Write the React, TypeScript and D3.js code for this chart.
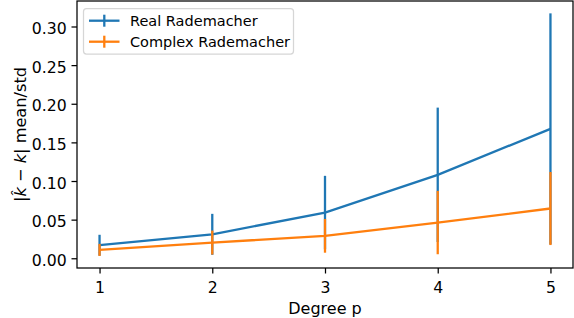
import React, { useRef, useEffect } from 'react';
import * as d3 from 'd3';

const degrees = [1, 2, 3, 4, 5];
const realMean = [0.0169, 0.031, 0.0592, 0.108, 0.1675];
const realStd = [0.0135, 0.0265, 0.0475, 0.087, 0.1495];
const complexMean = [0.0108, 0.0203, 0.029, 0.0462, 0.0644];
const complexStd = [0.0078, 0.0155, 0.0218, 0.041, 0.0473];
const yTicks = [0, 0.05, 0.1, 0.15, 0.2, 0.25, 0.3];
const seriesNames = ['Real Rademacher', 'Complex Rademacher'];
const colors = ['#1f77b4', '#ff7f0e'];

const W = 574;
const H = 318;
const FONT = 'DejaVu Sans, sans-serif';
const LW = 2.3;

const App = () => {
    const svgRef = useRef<SVGSVGElement>(null);

    useEffect(() => {
        const margin = { top: 1, right: 1, bottom: 50, left: 77 };

        const svg = d3.select(svgRef.current);
        svg.selectAll('*').remove();

        // scales
        const x = d3.scaleLinear().domain([0.8, 5.2]).range([margin.left, W - margin.right]);
        const y = d3.scaleLinear().domain([-0.0126, 0.333]).range([H - margin.bottom, margin.top]);

        svg.append('rect')
            .attr('width', W).attr('height', H).attr('fill', '#fff');

        // axes
        const xAxis = d3.axisBottom(x).tickValues(degrees).tickFormat(d3.format('d')).tickSize(5.5).tickPadding(8.5);
        const yAxis = d3.axisLeft(y).tickValues(yTicks).tickFormat(d3.format('.2f')).tickSize(5.5).tickPadding(4.8);

        const gx = svg.append('g')
            .attr('transform', `translate(0, ${H - margin.bottom})`)
            .call(xAxis);
        const gy = svg.append('g')
            .attr('transform', `translate(${margin.left}, 0)`)
            .call(yAxis);
        [gx, gy].forEach((g) => {
            g.select('.domain').remove();
            g.selectAll('line').attr('stroke', '#000').attr('stroke-width', 1.25);
            g.selectAll('text').attr('fill', '#000').style('font-family', FONT).style('font-size', '15.7px');
        });
        gy.selectAll('text').attr('dy', '0.46em');

        // series
        const series = [
            { mean: realMean, std: realStd, color: colors[0] },
            { mean: complexMean, std: complexStd, color: colors[1] },
        ];
        const line = d3.line<number>()
            .x((d, i) => x(degrees[i]))
            .y((d) => y(d));

        series.forEach((s) => {
            const g = svg.append('g');
            g.append('path')
                .datum(s.mean)
                .attr('fill', 'none')
                .attr('stroke', s.color)
                .attr('stroke-width', LW)
                .attr('d', line);
            g.selectAll('.err')
                .data(s.mean)
                .enter()
                .append('line')
                .attr('x1', (d, i) => x(degrees[i]))
                .attr('x2', (d, i) => x(degrees[i]))
                .attr('y1', (d, i) => y(d - s.std[i]))
                .attr('y2', (d, i) => y(d + s.std[i]))
                .attr('stroke', s.color)
                .attr('stroke-width', LW);
        });

        // frame
        svg.append('rect')
            .attr('x', margin.left)
            .attr('y', margin.top)
            .attr('width', W - margin.right - margin.left)
            .attr('height', H - margin.bottom - margin.top)
            .attr('fill', 'none')
            .attr('stroke', '#000')
            .attr('stroke-width', 1.25);

        // legend
        const leg = svg.append('g').attr('transform', 'translate(83.5, 8.5)');
        leg.append('rect')
            .attr('width', 210)
            .attr('height', 45.5)
            .attr('rx', 3)
            .attr('fill', '#fff')
            .attr('fill-opacity', 0.8)
            .attr('stroke', '#d6d6d6')
            .attr('stroke-width', 1.25);
        seriesNames.forEach((name, i) => {
            const cy = 12.2 + i * 21;
            leg.append('line')
                .attr('x1', 5.5).attr('x2', 36).attr('y1', cy).attr('y2', cy)
                .attr('stroke', colors[i]).attr('stroke-width', LW);
            leg.append('line')
                .attr('x1', 20.8).attr('x2', 20.8).attr('y1', cy - 6).attr('y2', cy + 6)
                .attr('stroke', colors[i]).attr('stroke-width', LW);
            leg.append('text')
                .attr('x', 46.5)
                .attr('y', cy + 5.3)
                .attr('fill', '#000')
                .style('font-family', FONT)
                .style('font-size', '14.5px')
                .text(name);
        });

        // axis labels
        svg.append('text')
            .attr('x', (margin.left + W - margin.right) / 2)
            .attr('y', 314)
            .attr('text-anchor', 'middle')
            .attr('fill', '#000')
            .style('font-family', FONT)
            .style('font-size', '16px')
            .text('Degree p');

        const yl = svg.append('text')
            .attr('transform', `translate(25.5, ${(margin.top + H - margin.bottom) / 2}) rotate(-90)`)
            .attr('text-anchor', 'middle')
            .attr('fill', '#000')
            .style('font-family', FONT)
            .style('font-size', '16.2px');
        yl.append('tspan').text('|');
        yl.append('tspan').style('font-style', 'italic').text('k\u0302');
        yl.append('tspan').text(' \u2212 ');
        yl.append('tspan').style('font-style', 'italic').text('k');
        yl.append('tspan').text('| mean/std');
    }, []);

    return (
        <svg
            ref={svgRef}
            width={W}
            height={H}
            style={{ position: 'absolute', left: 0, top: 0, display: 'block' }}
        ></svg>
    );
};

export default App;
